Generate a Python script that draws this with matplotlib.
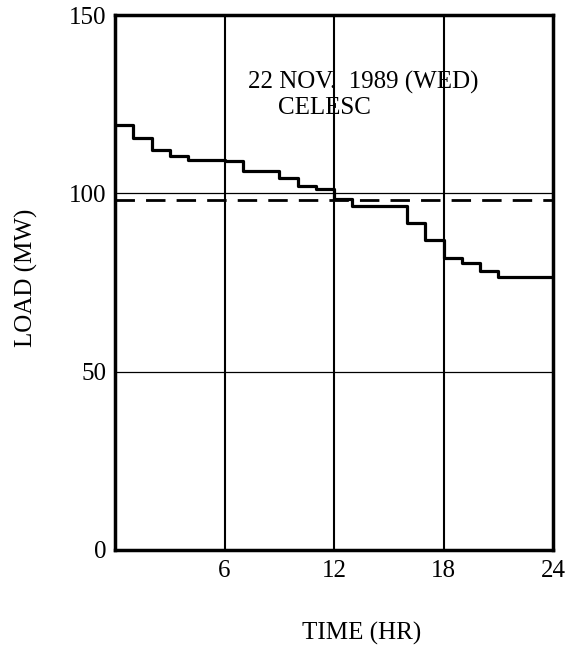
import matplotlib
matplotlib.use("Agg")
import matplotlib.pyplot as plt
import numpy as np

plt.rcParams['font.family'] = ['Liberation Serif', 'DejaVu Serif']

# hourly load (MW), one value per hour 0..23
hours = np.arange(0, 25)
load = [119.2, 115.6, 112.1, 110.5, 109.3, 109.3, 109.1, 106.3, 106.3, 104.3,
        102.1, 101.1, 98.5, 96.4, 96.4, 96.4, 91.6, 86.9, 81.8, 80.4,
        78.3, 76.5, 76.5, 76.5]
ref_solid = 100   # thin reference line
ref_dashed = 98   # dashed reference line
x_ticks = [6, 12, 18, 24]
y_ticks = [0, 50, 100, 150]

fig = plt.figure(figsize=(5.78, 6.53), dpi=100)
ax = fig.add_axes([0.199, 0.158, 0.758, 0.819])

# grid
for t in [6, 12, 18]:
    ax.axvline(t, color='black', lw=1.5, zorder=1)
ax.axhline(50, color='black', lw=0.9, zorder=1)
ax.axhline(ref_solid, color='black', lw=0.9, zorder=1)
ax.axhline(ref_dashed, color='black', lw=2, dashes=(7, 4), zorder=1)

# step curve
ax.step(hours, load + [load[-1]], where='post', color='black', lw=2.3, zorder=2)

ax.set_xlim(0, 24)
ax.set_ylim(0, 150)
ax.set_xticks(x_ticks)
ax.set_yticks(y_ticks)
ax.tick_params(length=0, labelsize=18, pad=6)
ax.tick_params(axis='x', pad=7)
for sp in ax.spines.values():
    sp.set_linewidth(2.5)

ax.text(13.6, 131, "22 NOV.  1989 (WED)", fontsize=18, ha='center', va='center')
ax.text(11.45, 124, "CELESC", fontsize=18, ha='center', va='center')

fig.text(0.045, 0.574, "LOAD (MW)", rotation=90, fontsize=18, ha='center', va='center')
fig.text(0.626, 0.030, "TIME (HR)", fontsize=18, ha='center', va='center')

fig.savefig("out.png", dpi=100)
